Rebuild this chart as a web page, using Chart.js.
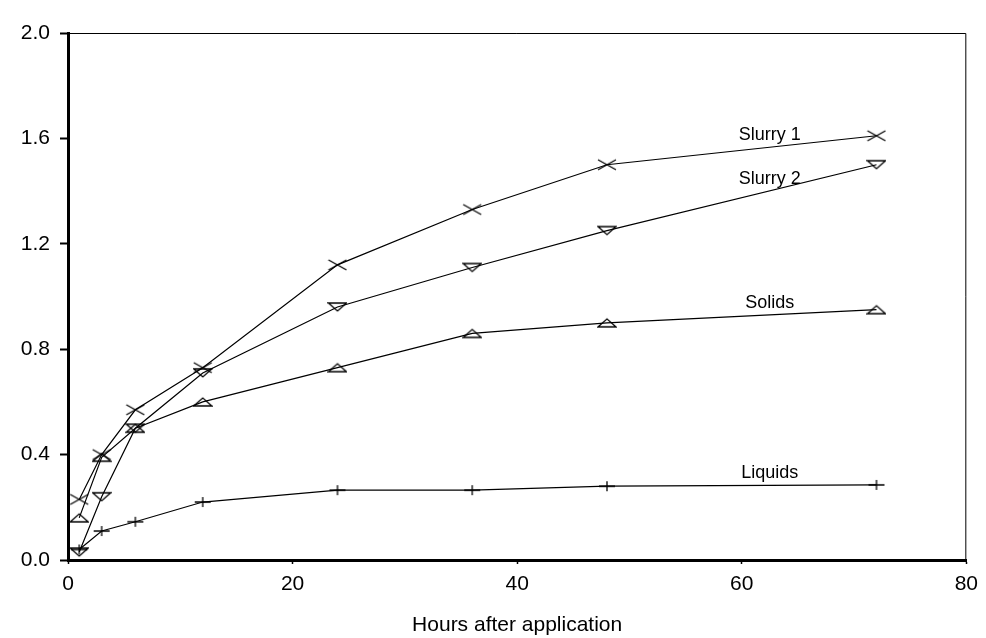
<!DOCTYPE html>
<html>
<head>
<meta charset="utf-8">
<script src="https://cdn.jsdelivr.net/npm/chart.js@4/dist/chart.umd.min.js"></script>
<style>
    html, body { margin: 0; padding: 0; background: #fff; }
    #wrap { width: 986px; height: 638px; position: relative; }
</style>
</head>
<body>
<div id="wrap"><canvas id="chart"></canvas></div>
<script>
// --- DATA ---
const hours   = [1, 3, 6, 12, 24, 36, 48, 72];
const slurry1 = [0.23, 0.40, 0.57, 0.73, 1.12, 1.33, 1.50, 1.61];
const slurry2 = [0.03, 0.24, 0.50, 0.71, 0.96, 1.11, 1.25, 1.50];
const solids  = [0.16, 0.39, 0.50, 0.60, 0.73, 0.86, 0.90, 0.95];
const liquids = [0.04, 0.11, 0.145, 0.22, 0.265, 0.265, 0.28, 0.285];
const seriesNames = ['Slurry 1', 'Slurry 2', 'Solids', 'Liquids'];
const xTicks = [0, 20, 40, 60, 80];
const yTicks = [0.0, 0.4, 0.8, 1.2, 1.6, 2.0];
const xTitle = 'Hours after application';
const labelHour = 62.5; // where the curve names sit along each line

const FONT = "'Liberation Sans', Arial, sans-serif";

// --- MARKERS (small canvases used as point styles) ---
function makeMarker(kind) {
    const c = document.createElement('canvas');
    c.width = 20;
    c.height = 14;
    const g = c.getContext('2d');
    g.strokeStyle = '#000';
    g.lineWidth = 1.3;
    g.beginPath();
    if (kind === 'x') {
        g.moveTo(1, 2); g.lineTo(19, 12);
        g.moveTo(1, 12); g.lineTo(19, 2);
    } else if (kind === 'down') {
        g.moveTo(1, 3); g.lineTo(19, 3); g.lineTo(10, 11); g.closePath();
    } else if (kind === 'up') {
        g.moveTo(1, 11); g.lineTo(19, 11); g.lineTo(10, 3); g.closePath();
    } else {
        g.moveTo(2, 7); g.lineTo(18, 7);
        g.moveTo(10, 2); g.lineTo(10, 12);
    }
    g.stroke();
    return c;
}

function toPoints(values) {
    return hours.map((h, i) => ({ x: h, y: values[i] }));
}

function makeSet(name, values, marker) {
    return {
        label: name,
        data: toPoints(values),
        borderColor: '#000',
        borderWidth: 1.2,
        pointStyle: makeMarker(marker),
        pointRadius: 8,
        fill: false,
        tension: 0
    };
}

// --- PLUGINS ---
// thin top and right frame lines
const framePlugin = {
    id: 'frame',
    beforeDatasetsDraw(chart) {
        const { ctx, chartArea: a } = chart;
        ctx.save();
        ctx.strokeStyle = '#000';
        ctx.lineWidth = 1;
        ctx.beginPath();
        ctx.moveTo(a.left, a.top + 0.5);
        ctx.lineTo(a.right - 0.5, a.top + 0.5);
        ctx.lineTo(a.right - 0.5, a.bottom);
        ctx.stroke();
        ctx.restore();
    }
};

// curve names written just above each line
const namePlugin = {
    id: 'names',
    afterDatasetsDraw(chart) {
        const { ctx, scales: { x, y } } = chart;
        ctx.save();
        ctx.fillStyle = '#000';
        ctx.font = '18px ' + FONT;
        ctx.textAlign = 'center';
        ctx.textBaseline = 'alphabetic';
        chart.data.datasets.forEach(ds => {
            const pts = ds.data;
            let v = pts[pts.length - 1].y;
            for (let i = 1; i < pts.length; i++) {
                if (labelHour <= pts[i].x) {
                    const t = (labelHour - pts[i - 1].x) / (pts[i].x - pts[i - 1].x);
                    v = pts[i - 1].y + t * (pts[i].y - pts[i - 1].y);
                    break;
                }
            }
            ctx.fillText(ds.label, x.getPixelForValue(labelHour), y.getPixelForValue(v) - 7);
        });
        ctx.restore();
    }
};

// --- CHART ---
new Chart(document.getElementById('chart'), {
    type: 'line',
    data: {
        datasets: [
            makeSet(seriesNames[0], slurry1, 'x'),
            makeSet(seriesNames[1], slurry2, 'down'),
            makeSet(seriesNames[2], solids, 'up'),
            makeSet(seriesNames[3], liquids, 'plus')
        ]
    },
    options: {
        responsive: true,
        maintainAspectRatio: false,
        animation: false,
        layout: { padding: { top: 33, right: 18, left: 0, bottom: 0 } },
        plugins: {
            legend: { display: false },
            tooltip: { enabled: false }
        },
        scales: {
            x: {
                type: 'linear',
                min: 0,
                max: 80,
                afterBuildTicks: s => { s.ticks = xTicks.map(v => ({ value: v })); },
                afterFit: s => { s.height = 78; },
                grid: { drawOnChartArea: false, drawTicks: true, tickLength: 4, color: '#000', tickWidth: 1.5 },
                border: { display: true, color: '#000', width: 3 },
                ticks: { color: '#000', padding: 8, font: { family: FONT, size: 21 } },
                title: {
                    display: true,
                    text: xTitle,
                    color: '#000',
                    font: { family: FONT, size: 21 },
                    padding: { top: 0, bottom: 0 }
                }
            },
            y: {
                type: 'linear',
                min: 0,
                max: 2,
                afterBuildTicks: s => { s.ticks = yTicks.map(v => ({ value: v })); },
                afterFit: s => { s.width = 68; },
                grid: { drawOnChartArea: false, drawTicks: true, tickLength: 8, color: '#000', tickWidth: 2 },
                border: { display: true, color: '#000', width: 3 },
                ticks: {
                    color: '#000',
                    padding: 10,
                    font: { family: FONT, size: 21 },
                    callback: v => v.toFixed(1)
                }
            }
        }
    },
    plugins: [framePlugin, namePlugin]
});
</script>
</body>
</html>
